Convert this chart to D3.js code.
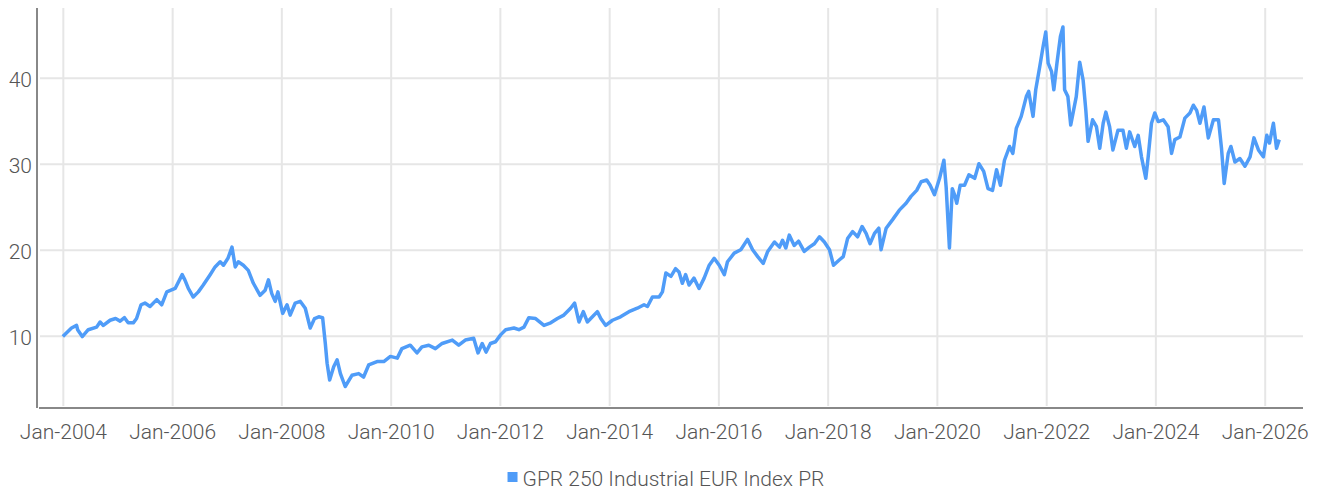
<!DOCTYPE html>
<html>
<head>
<meta charset="utf-8">
<script src="https://cdn.jsdelivr.net/npm/d3@7"></script>
<style>
  body { margin: 0; background: #fff; }
  svg text { font-family: Roboto, "DejaVu Sans Condensed", sans-serif; font-weight: 300; fill: #555; }
</style>
</head>
<body>
<div class="svg-container"></div>
<script>
// Data
const seriesName = "GPR 250 Industrial EUR Index PR";

const dates = [
  "2004-01-01","2004-02-28","2004-04-02","2004-04-09","2004-05-10","2004-06-19","2004-08-14","2004-09-06","2004-09-28","2004-11-12",
  "2004-12-19","2005-01-18","2005-02-16","2005-03-13","2005-04-16","2005-05-08","2005-06-07","2005-07-03","2005-08-06","2005-09-20",
  "2005-10-23","2005-11-26","2006-01-21","2006-03-09","2006-03-27","2006-04-19","2006-05-22","2006-06-25","2006-07-28","2006-09-12",
  "2006-10-15","2006-11-18","2006-12-10","2007-01-09","2007-02-05","2007-02-27","2007-03-19","2007-04-22","2007-05-25","2007-06-28",
  "2007-08-12","2007-09-15","2007-10-07","2007-10-29","2007-11-21","2007-12-09","2008-01-10","2008-02-08","2008-02-29","2008-04-03",
  "2008-05-06","2008-06-09","2008-07-12","2008-08-10","2008-09-07","2008-10-03","2008-10-21","2008-11-02","2008-11-19","2008-12-16",
  "2009-01-08","2009-01-30","2009-03-03","2009-04-17","2009-06-01","2009-07-04","2009-08-07","2009-10-02","2009-11-16","2009-12-30",
  "2010-02-14","2010-03-17","2010-05-12","2010-06-26","2010-07-29","2010-09-13","2010-10-27","2010-12-11","2011-02-17","2011-04-01",
  "2011-05-15","2011-07-10","2011-08-08","2011-09-05","2011-10-01","2011-10-30","2011-12-03","2012-01-06","2012-02-09","2012-04-04",
  "2012-05-07","2012-06-10","2012-07-13","2012-08-27","2012-10-22","2012-12-06","2013-01-20","2013-03-04","2013-04-18","2013-05-15",
  "2013-06-13","2013-07-12","2013-08-08","2013-09-11","2013-10-14","2013-11-06","2013-12-09","2014-01-23","2014-03-18","2014-05-13",
  "2014-07-08","2014-08-22","2014-09-14","2014-10-17","2014-12-01","2014-12-23","2015-01-15","2015-02-18","2015-03-21","2015-04-13",
  "2015-05-05","2015-05-27","2015-06-19","2015-07-22","2015-08-25","2015-09-28","2015-11-01","2015-12-04","2016-01-07","2016-02-10",
  "2016-03-02","2016-04-16","2016-05-30","2016-07-14","2016-08-17","2016-09-20","2016-10-27","2016-11-26","2017-01-10","2017-02-13",
  "2017-03-05","2017-03-27","2017-04-19","2017-05-22","2017-06-20","2017-07-28","2017-09-01","2017-10-04","2017-11-07","2017-12-10",
  "2018-01-13","2018-02-09","2018-03-19","2018-04-15","2018-05-14","2018-06-17","2018-07-20","2018-08-19","2018-09-15","2018-10-11",
  "2018-11-10","2018-12-09","2018-12-24","2019-01-27","2019-03-11","2019-04-25","2019-06-09","2019-07-12","2019-08-19","2019-09-18",
  "2019-10-25","2019-11-17","2019-12-16","2020-01-19","2020-02-17","2020-03-03","2020-03-25","2020-04-13","2020-04-28","2020-05-13",
  "2020-06-05","2020-07-04","2020-08-02","2020-09-10","2020-10-08","2020-11-09","2020-12-08","2021-01-07","2021-02-03","2021-03-01",
  "2021-03-28","2021-05-01","2021-05-23","2021-06-15","2021-07-18","2021-08-21","2021-09-06","2021-10-05","2021-10-23","2021-11-19",
  "2021-12-11","2021-12-29","2022-01-14","2022-02-06","2022-02-21","2022-03-14","2022-04-06","2022-04-23","2022-05-04","2022-05-26",
  "2022-06-14","2022-07-03","2022-07-21","2022-08-13","2022-09-05","2022-09-23","2022-10-08","2022-11-07","2022-12-03","2022-12-25",
  "2023-01-17","2023-02-04","2023-03-01","2023-03-23","2023-04-26","2023-05-29","2023-06-21","2023-07-13","2023-08-16","2023-09-08",
  "2023-09-30","2023-10-29","2023-11-14","2023-12-06","2023-12-28","2024-01-20","2024-02-23","2024-03-26","2024-04-18","2024-05-10",
  "2024-06-13","2024-07-16","2024-08-19","2024-09-11","2024-10-03","2024-10-25","2024-11-21","2024-12-20","2025-01-23","2025-02-26",
  "2025-03-18","2025-04-05","2025-05-02","2025-05-20","2025-06-16","2025-07-19","2025-08-22","2025-09-25","2025-10-21","2025-11-20",
  "2025-12-23","2026-01-15","2026-02-02","2026-02-28","2026-03-21","2026-04-08"
];

const values = [
  9.9,10.9,11.2,10.7,9.9,10.7,11.0,11.6,11.2,11.8,
  12.0,11.7,12.1,11.5,11.5,12.0,13.6,13.8,13.4,14.2,
  13.6,15.1,15.5,17.1,16.5,15.5,14.5,15.1,15.9,17.1,
  18.0,18.6,18.2,19.0,20.3,18.0,18.6,18.2,17.6,16.1,
  14.7,15.3,16.5,14.9,14.0,15.1,12.6,13.6,12.4,13.8,
  14.0,13.2,10.9,12.0,12.2,12.1,9.1,6.8,4.85,6.4,
  7.2,5.6,4.1,5.4,5.6,5.2,6.6,7.0,7.0,7.6,
  7.4,8.5,8.9,8.0,8.7,8.9,8.5,9.1,9.5,8.9,
  9.5,9.7,8.0,9.1,8.1,9.1,9.3,10.1,10.7,10.9,
  10.7,11.0,12.1,12.0,11.2,11.5,12.0,12.4,13.2,13.8,
  11.6,12.8,11.6,12.2,12.8,12.0,11.2,11.8,12.2,12.8,
  13.2,13.6,13.4,14.5,14.5,15.1,17.3,16.9,17.8,17.4,
  16.1,17.1,15.9,16.7,15.5,16.7,18.2,19.0,18.2,17.1,
  18.6,19.6,20.0,21.2,20.0,19.2,18.4,19.8,20.9,20.3,
  21.1,20.2,21.7,20.5,21.0,19.8,20.3,20.7,21.5,20.9,
  20.0,18.2,18.8,19.2,21.3,22.1,21.5,22.7,21.9,20.7,
  21.9,22.5,20.0,22.5,23.5,24.6,25.4,26.2,26.9,27.9,
  28.1,27.5,26.4,28.3,30.4,27.3,20.2,27.1,26.4,25.4,
  27.5,27.5,28.7,28.3,30.0,29.1,27.1,26.9,29.3,27.5,
  30.4,32.0,31.2,34.1,35.5,37.8,38.4,35.5,38.6,41.3,
  43.6,45.3,41.7,40.7,38.6,41.7,44.8,45.9,38.6,37.8,
  34.5,36.2,37.8,41.8,39.7,36.2,32.6,35.1,34.3,31.8,
  34.7,36.0,34.3,31.6,33.9,33.9,31.8,33.7,32.0,33.3,
  30.8,28.3,30.8,34.7,35.9,34.9,35.1,34.3,31.2,32.8,
  33.1,35.3,35.9,36.8,36.2,34.7,36.6,33.0,35.1,35.1,
  31.8,27.7,31.2,32.0,30.2,30.6,29.7,30.8,33.0,31.6,
  30.8,33.3,32.4,34.7,31.8,32.8
];

const xTickDates = ["2004-01-01","2006-01-01","2008-01-01","2010-01-01","2012-01-01","2014-01-01",
  "2016-01-01","2018-01-01","2020-01-01","2022-01-01","2024-01-01","2026-01-01"];
const yTicks = [10, 20, 30, 40];

// Global Variables
const canvasWidth = 1321;
const canvasHeight = 493;
const plot = { left: 38, right: 1303, top: 8, bottom: 408 };
const fontSize = 21;

const parseDate = d3.timeParse("%Y-%m-%d");
const dataSet = dates.map((d, i) => ({ date: parseDate(d), value: values[i] }));

// Scales X - Y
const xScale = d3
  .scaleTime()
  .domain([parseDate("2003-07-19"), parseDate("2026-09-14")])
  .range([plot.left, plot.right]);
const yScale = d3.scaleLinear().domain([1.6, 48.1]).range([plot.bottom, plot.top]);

const svg = d3
  .select(".svg-container")
  .append("svg")
  .attr("width", canvasWidth)
  .attr("height", canvasHeight);

// Grid lines
const yGrid = d3
  .axisLeft(yScale)
  .tickValues(yTicks)
  .tickSize(-(plot.right - plot.left - 2))
  .tickFormat("");
svg
  .append("g")
  .attr("class", "y-grid")
  .attr("transform", `translate(${plot.left + 2}, 0)`)
  .call(yGrid)
  .call((g) => g.select(".domain").remove())
  .call((g) => g.selectAll("line").attr("stroke", "#e6e6e6").attr("stroke-width", 2));

const xGrid = d3
  .axisBottom(xScale)
  .tickValues(xTickDates.map(parseDate))
  .tickSize(-(plot.bottom - plot.top - 2))
  .tickFormat("");
svg
  .append("g")
  .attr("class", "x-grid")
  .attr("transform", `translate(0, ${plot.bottom - 2})`)
  .call(xGrid)
  .call((g) => g.select(".domain").remove())
  .call((g) => g.selectAll("line").attr("stroke", "#e6e6e6").attr("stroke-width", 2));

// Axes
const yAxis = d3.axisLeft(yScale).tickValues(yTicks).tickSize(0).tickPadding(6);
svg
  .append("g")
  .attr("id", "y-axis")
  .attr("transform", `translate(${plot.left}, 0)`)
  .call(yAxis)
  .call((g) => g.select(".domain").remove())
  .call((g) =>
    g.selectAll("text").attr("font-size", fontSize).attr("dy", "0.4em").style("font-family", null)
  );

svg
  .append("line")
  .attr("x1", plot.left - 1)
  .attr("x2", plot.left - 1)
  .attr("y1", plot.top)
  .attr("y2", plot.bottom)
  .attr("stroke", "#888")
  .attr("stroke-width", 2);

const xAxis = d3
  .axisBottom(xScale)
  .tickValues(xTickDates.map(parseDate))
  .tickSize(0)
  .tickPadding(16)
  .tickFormat(d3.timeFormat("%b-%Y"));
svg
  .append("g")
  .attr("id", "x-axis")
  .attr("transform", `translate(0, ${plot.bottom})`)
  .call(xAxis)
  .call((g) => g.select(".domain").remove())
  .call((g) => g.selectAll("text").attr("font-size", fontSize).style("font-family", null));

svg
  .append("line")
  .attr("x1", plot.left + 1)
  .attr("x2", plot.right)
  .attr("y1", plot.bottom)
  .attr("y2", plot.bottom)
  .attr("stroke", "#888")
  .attr("stroke-width", 2);

// Line
const line = d3
  .line()
  .x((d) => xScale(d.date))
  .y((d) => yScale(d.value));

svg
  .append("path")
  .datum(dataSet)
  .attr("fill", "none")
  .attr("stroke", "#4f9cf8")
  .attr("stroke-width", 3.5)
  .attr("stroke-linejoin", "round")
  .attr("d", line);

// Legend
const legend = svg.append("g").attr("class", "legend");
const legendText = legend
  .append("text")
  .attr("y", 486)
  .attr("font-size", fontSize)
  .text(seriesName);
const textWidth = legendText.node().getComputedTextLength();
const legendX = 666 - (textWidth + 15) / 2;
legendText.attr("x", legendX + 15);
legend
  .append("rect")
  .attr("x", legendX)
  .attr("y", 472)
  .attr("width", 10)
  .attr("height", 10)
  .attr("fill", "#4f9cf8");
</script>
</body>
</html>
